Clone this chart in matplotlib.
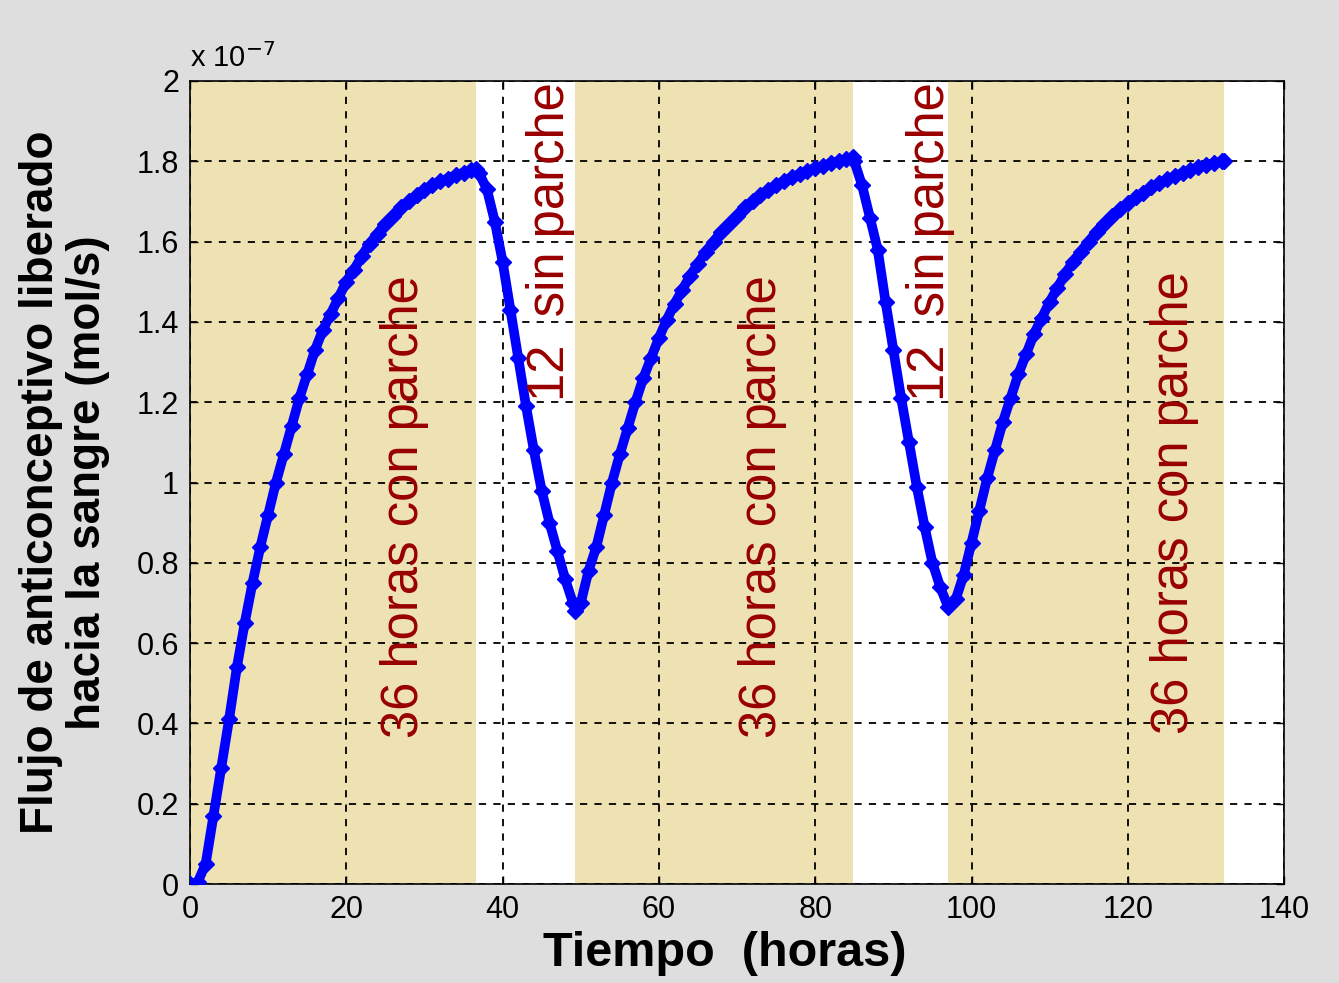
import matplotlib
matplotlib.use("Agg")
import matplotlib.pyplot as plt

plt.rcParams["font.family"] = ["Liberation Sans", "DejaVu Sans"]

# flujo (x 1e-7 mol/s) vs tiempo (h), por tramos
t_on1 = [0, 1, 2, 3, 4, 5, 6, 7, 8, 9, 10, 11, 12, 13, 14, 15, 16, 17, 18, 19,
         20, 21, 22, 23, 24, 25, 26, 27, 28, 29, 30, 31, 32, 33, 34, 35, 36, 36.6]
f_on1 = [0, 0.005, 0.05, 0.17, 0.29, 0.41, 0.54, 0.65, 0.75, 0.84, 0.92, 1.00,
         1.07, 1.14, 1.21, 1.27, 1.33, 1.38, 1.42, 1.46, 1.50, 1.53, 1.565, 1.595,
         1.62, 1.645, 1.665, 1.685, 1.70, 1.715, 1.728, 1.74, 1.75, 1.757, 1.765,
         1.772, 1.778, 1.78]

t_off1 = [37, 38, 39, 40, 41, 42, 43, 44, 45, 46, 47, 48, 49, 49.3]
f_off1 = [1.77, 1.73, 1.65, 1.55, 1.43, 1.31, 1.19, 1.08, 0.98, 0.90, 0.83, 0.76,
          0.70, 0.68]

t_on2 = [50, 51, 52, 53, 54, 55, 56, 57, 58, 59, 60, 61, 62, 63, 64, 65, 66, 67,
         68, 69, 70, 71, 72, 73, 74, 75, 76, 77, 78, 79, 80, 81, 82, 83, 84, 84.8]
f_on2 = [0.70, 0.78, 0.84, 0.92, 1.00, 1.07, 1.135, 1.20, 1.26, 1.31, 1.36, 1.405,
         1.445, 1.48, 1.515, 1.545, 1.575, 1.60, 1.625, 1.645, 1.665, 1.685, 1.70,
         1.715, 1.728, 1.74, 1.75, 1.76, 1.768, 1.776, 1.783, 1.789, 1.795, 1.80,
         1.805, 1.81]

t_off2 = [85, 86, 87, 88, 89, 90, 91, 92, 93, 94, 95, 96, 97]
f_off2 = [1.80, 1.74, 1.66, 1.58, 1.45, 1.33, 1.21, 1.10, 0.99, 0.89, 0.80, 0.74,
          0.69]

t_on3 = [98, 99, 100, 101, 102, 103, 104, 105, 106, 107, 108, 109, 110, 111, 112,
         113, 114, 115, 116, 117, 118, 119, 120, 121, 122, 123, 124, 125, 126, 127,
         128, 129, 130, 131, 132, 132.3]
f_on3 = [0.71, 0.77, 0.85, 0.93, 1.01, 1.08, 1.15, 1.21, 1.27, 1.32, 1.37, 1.41,
         1.45, 1.485, 1.52, 1.55, 1.575, 1.60, 1.625, 1.645, 1.665, 1.68, 1.695,
         1.71, 1.722, 1.735, 1.745, 1.755, 1.763, 1.771, 1.778, 1.785, 1.79, 1.795,
         1.80, 1.80]

# intervalos con parche
patch_start = [0, 49.3, 97.0]
patch_end = [36.6, 84.8, 132.3]

t = t_on1 + t_off1 + t_on2 + t_off2 + t_on3
f = f_on1 + f_off1 + f_on2 + f_off2 + f_on3

fig = plt.figure(figsize=(13.39, 9.83), dpi=100, facecolor="#dedede")
ax = fig.add_axes([0.1419, 0.1007, 0.8171, 0.8169])
ax.set_facecolor("white")

for a, b in zip(patch_start, patch_end):
    ax.axvspan(a, b, color="#eee1b2", lw=0, zorder=0)

ax.plot(t, f, "-", color="#0000ff", lw=7, solid_joinstyle="round",
        solid_capstyle="round", zorder=3)
ax.plot(t, f, "D", color="#0000ff", ms=8, zorder=3)

txt = dict(rotation=90, color="#990000", fontsize=36.5, ha="center", va="center",
           zorder=4)
ax.text(27.5, 0.94, "36 horas con parche", **txt)
ax.text(73.2, 0.94, "36 horas con parche", **txt)
ax.text(126.0, 0.95, "36 horas con parche", **txt)
ax.text(46.1, 1.6, "12  sin parche", **txt)
ax.text(94.7, 1.6, "12  sin parche", **txt)

ax.set_xlim(0, 140)
ax.set_ylim(0, 2)
ax.set_xticks(range(0, 141, 20))
yt = [0, 0.2, 0.4, 0.6, 0.8, 1, 1.2, 1.4, 1.6, 1.8, 2]
ax.set_yticks(yt)
ax.set_yticklabels(["%g" % v for v in yt])
ax.tick_params(direction="in", top=True, right=True, labelsize=22, length=6,
               width=1, pad=8)
ax.grid(True, color="black", linestyle=(0, (4, 4)), lw=1.3)
ax.set_axisbelow(False)
for s in ax.spines.values():
    s.set_linewidth(1.2)

ax.text(0, 1.01, r"x 10$^{-7}$", transform=ax.transAxes, fontsize=21,
        ha="left", va="bottom")

ax.set_xlabel("Tiempo  (horas)", fontsize=35, fontweight="bold", labelpad=10)
ax.xaxis.set_label_coords(0.489, -0.058)
ax.set_ylabel("Flujo de anticonceptivo liberado\nhacia la sangre (mol/s)",
              fontsize=33, fontweight="bold", labelpad=19, linespacing=1.1)

fig.savefig("out.png", dpi=100, facecolor=fig.get_facecolor())
